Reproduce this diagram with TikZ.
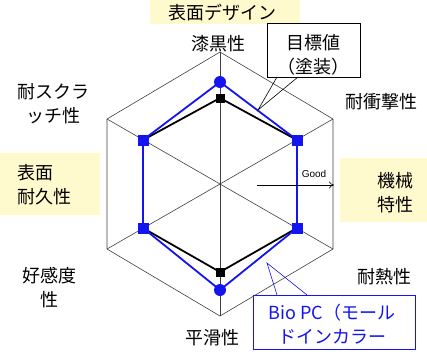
\documentclass[tikz,border=0pt]{standalone}
\usepackage{fontspec}
\setmainfont{Noto Sans CJK JP}
\newfontfamily\latinfont{Liberation Sans}
\usetikzlibrary{arrows.meta}
\definecolor{pblue}{RGB}{20,20,240}
\definecolor{ylw}{RGB}{255,250,205}
\begin{document}
\begin{tikzpicture}[x=1pt,y=-1pt,
  grid/.style={draw=black!75,line width=0.6pt},
  lab/.style={font=\fontsize{18}{24}\selectfont, align=center, inner sep=0pt},
  labl/.style={font=\fontsize{18}{24}\selectfont, align=left, inner sep=0pt},
  bluel/.style={draw=pblue, line width=1.8pt, line join=round},
  blackl/.style={draw=black, line width=1.8pt, line join=round},
  bcirc/.style={circle, fill=pblue, minimum size=12pt, inner sep=0pt},
  bsq/.style={rectangle, fill=pblue, minimum size=11pt, inner sep=0pt},
  ksq/.style={rectangle, fill=black, minimum size=9pt, inner sep=0pt},
  callout/.style={draw, fill=white, line width=0.8pt, inner sep=0pt},
]
\useasboundingbox (0,0) rectangle (427,354);
\fill[white] (0,0) rectangle (427,354);
% yellow highlight backgrounds
\fill[ylw] (150,0) rectangle (300,24);
\fill[ylw] (0,153) rectangle (100,215);
\fill[ylw] (340,158) rectangle (427,222);
% grid
\coordinate (C) at (220,184);
\coordinate (o1) at (220,52);
\coordinate (o2) at (333,119);
\coordinate (o3) at (333,249);
\coordinate (o4) at (220,316);
\coordinate (o5) at (107,249);
\coordinate (o6) at (107,119);
\draw[grid] (o1)--(o2)--(o3)--(o4)--(o5)--(o6)--cycle;
\foreach \i in {1,...,6} {\draw[grid] (C)--(o\i);}
% series
\coordinate (k1) at (220,98);
\coordinate (k2) at (297,140);
\coordinate (k3) at (297,228);
\coordinate (k4) at (220,272);
\coordinate (k5) at (143,228);
\coordinate (k6) at (143,140);
\coordinate (b1) at (220,82);
\coordinate (b2) at (297,140);
\coordinate (b3) at (297,228);
\coordinate (b4) at (220,290);
\coordinate (b5) at (143,228);
\coordinate (b6) at (143,140);
\draw[blackl] (k1)--(k2)--(k3)--(k4)--(k5)--(k6)--cycle;
\draw[bluel] (b1)--(b2)--(b3)--(b4)--(b5)--(b6)--cycle;
\node[ksq] (km1) at (k1) {};
\node[ksq] (km4) at (k4) {};
\node[bcirc] (bm1) at (b1) {};
\node[bcirc] (bm4) at (b4) {};
\node[bsq] (bm2) at (b2) {};
\node[bsq] (bm3) at (b3) {};
\node[bsq] (bm5) at (b5) {};
\node[bsq] (bm6) at (b6) {};
% Good arrow
\coordinate (ga) at (257,185);
\coordinate (gb) at (334,185);
\draw[line width=0.6pt, -{To[length=5pt,width=7pt]}] (ga)--(gb);
\node[font=\latinfont\fontsize{10}{12}\selectfont, inner sep=0pt] (good) at (314,174) {Good};
% axis labels
\node[lab] (l1) at (222,13) {表面デザイン};
\node[lab] (l2) at (218,44) {漆黒性};
\node[lab] (l3) at (53,103.5) {耐スクラ\\ッチ性};
\node[labl, anchor=west] (l4) at (17,185) {表面\\耐久性};
\node[lab] (l5) at (381,102) {耐衝撃性};
\node[lab] (l6) at (395,192.5) {機械\\特性};
\node[lab] (l7) at (49,287.5) {好感度\\性};
\node[lab] (l8) at (384,277) {耐熱性};
\node[lab] (l9) at (212,338) {平滑性};
% target callout
\node[callout, minimum width=93pt, minimum height=54pt] (tbox) at (313.5,50) {};
\node[lab] (ttext) at (313,54.5) {目標値\\（塗装）};
\coordinate (tp) at (258,110);
\coordinate (ta) at (277,77);
\coordinate (tb) at (298,77);
\draw[line width=0.6pt] (ta)--(tp)--(tb);
% Bio PC callout
\node[callout, draw=pblue, minimum width=162pt, minimum height=54pt] (bbox) at (334,322) {};
\node[lab, text=pblue] (btext) at (332,324.5) {Bio PC（モール\\ドインカラー};
\coordinate (bp) at (267,263);
\coordinate (ba) at (277,295);
\coordinate (bb) at (307,295);
\draw[pblue, line width=0.6pt] (ba)--(bp)--(bb);
\end{tikzpicture}
\end{document}
